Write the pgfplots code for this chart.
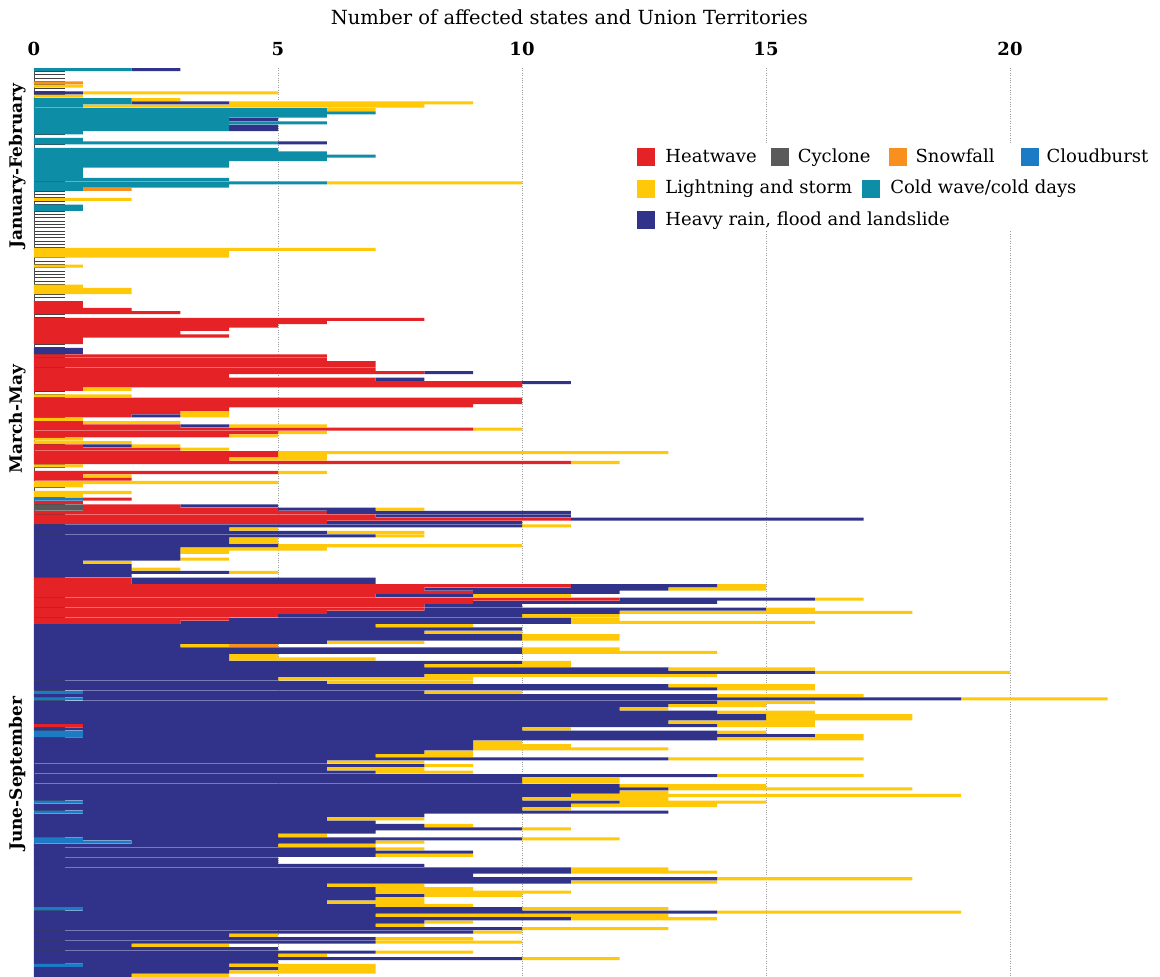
\documentclass[border=0pt]{standalone}
\usepackage{fontspec}
\setmainfont{DejaVu Serif}
\usepackage{pgfplots}
\usepackage{pgfplotstable}
\pgfplotsset{compat=1.18}

\definecolor{hw}{RGB}{229,34,38}
\definecolor{cy}{RGB}{90,90,90}
\definecolor{sn}{RGB}{247,144,30}
\definecolor{cb}{RGB}{27,123,196}
\definecolor{lt}{RGB}{255,201,10}
\definecolor{cw}{RGB}{14,141,166}
\definecolor{hr}{RGB}{49,51,138}

% one row per day, 1 Jan (0) to 30 Sep (272)
% cb cloudburst, cy cyclone, hw heatwave, cw cold wave, hr heavy rain, lt lightning, sn snowfall
\pgfplotstableread{
d cb cy hw cw hr lt sn
0 0 0 0 2 1 0 0
1 0 0 0 0 0 0 0
2 0 0 0 0 0 0 0
3 0 0 0 0 0 0 0
4 0 0 0 0 0 0 1
5 0 0 0 0 0 1 0
6 0 0 0 0 0 0 0
7 0 0 0 0 1 4 0
8 0 0 0 0 0 1 0
9 0 0 0 2 0 1 0
10 0 0 0 2 2 5 0
11 0 0 0 1 0 7 0
12 0 0 0 6 0 1 0
13 0 0 0 7 0 0 0
14 0 0 0 6 0 0 0
15 0 0 0 4 1 0 0
16 0 0 0 6 0 0 0
17 0 0 0 4 1 0 0
18 0 0 0 4 1 0 0
19 0 0 0 1 0 0 0
20 0 0 0 0 0 0 0
21 0 0 0 1 0 0 0
22 0 0 0 5 1 0 0
23 0 0 0 0 0 0 0
24 0 0 0 5 0 0 0
25 0 0 0 6 0 0 0
26 0 0 0 7 0 0 0
27 0 0 0 6 0 0 0
28 0 0 0 4 0 0 0
29 0 0 0 4 0 0 0
30 0 0 0 1 0 0 0
31 0 0 0 1 0 0 0
32 0 0 0 1 0 0 0
33 0 0 0 4 0 0 0
34 0 0 0 6 0 4 0
35 0 0 0 4 0 0 0
36 0 0 0 1 0 0 1
37 0 0 0 0 0 0 0
38 0 0 0 0 0 0 0
39 0 0 0 0 0 2 0
40 0 0 0 0 0 0 0
41 0 0 0 1 0 0 0
42 0 0 0 1 0 0 0
43 0 0 0 0 0 0 0
44 0 0 0 0 0 0 0
45 0 0 0 0 0 0 0
46 0 0 0 0 0 0 0
47 0 0 0 0 0 0 0
48 0 0 0 0 0 0 0
49 0 0 0 0 0 0 0
50 0 0 0 0 0 0 0
51 0 0 0 0 0 0 0
52 0 0 0 0 0 0 0
53 0 0 0 0 0 0 0
54 0 0 0 0 0 7 0
55 0 0 0 0 0 4 0
56 0 0 0 0 0 4 0
57 0 0 0 0 0 0 0
58 0 0 0 0 0 0 0
59 0 0 0 0 0 1 0
60 0 0 0 0 0 0 0
61 0 0 0 0 0 0 0
62 0 0 0 0 0 0 0
63 0 0 0 0 0 0 0
64 0 0 0 0 0 0 0
65 0 0 0 0 0 1 0
66 0 0 0 0 0 2 0
67 0 0 0 0 0 2 0
68 0 0 0 0 0 0 0
69 0 0 0 0 0 0 0
70 0 0 1 0 0 0 0
71 0 0 1 0 0 0 0
72 0 0 2 0 0 0 0
73 0 0 3 0 0 0 0
74 0 0 0 0 0 0 0
75 0 0 8 0 0 0 0
76 0 0 6 0 0 0 0
77 0 0 5 0 0 0 0
78 0 0 4 0 0 0 0
79 0 0 3 0 0 0 0
80 0 0 4 0 0 0 0
81 0 0 1 0 0 0 0
82 0 0 1 0 0 0 0
83 0 0 0 0 0 0 0
84 0 0 0 0 1 0 0
85 0 0 0 0 1 0 0
86 0 0 6 0 0 0 0
87 0 0 6 0 0 0 0
88 0 0 7 0 0 0 0
89 0 0 7 0 0 0 0
90 0 0 7 0 0 0 0
91 0 0 8 0 1 0 0
92 0 0 4 0 0 0 0
93 0 0 7 0 1 0 0
94 0 0 10 0 1 0 0
95 0 0 10 0 0 0 0
96 0 0 1 0 0 1 0
97 0 0 0 0 0 0 0
98 0 0 0 0 0 2 0
99 0 0 10 0 0 0 0
100 0 0 10 0 0 0 0
101 0 0 9 0 0 0 0
102 0 0 4 0 0 0 0
103 0 0 3 0 0 1 0
104 0 0 2 0 1 1 0
105 0 0 0 0 0 1 0
106 0 0 1 0 0 2 0
107 0 0 3 0 1 2 0
108 0 0 9 0 0 1 0
109 0 0 5 0 0 1 0
110 0 0 4 0 0 1 0
111 0 0 0 0 0 1 0
112 0 0 0 0 0 2 0
113 0 0 1 0 1 1 0
114 0 0 3 0 0 1 0
115 0 0 5 0 0 8 0
116 0 0 5 0 0 1 0
117 0 0 4 0 0 2 0
118 0 0 11 0 0 1 0
119 0 0 0 0 0 1 0
120 0 0 0 0 0 0 0
121 0 0 5 0 0 1 0
122 0 0 1 0 0 1 0
123 0 0 2 0 0 0 0
124 0 0 0 0 0 5 0
125 0 0 0 0 0 1 0
126 0 0 0 0 0 0 0
127 0 0 0 0 0 2 0
128 0 0 0 0 0 1 0
129 1 0 1 0 0 0 0
130 0 0 1 0 0 0 0
131 0 1 2 0 2 0 0
132 0 1 4 0 2 1 0
133 0 0 6 0 5 0 0
134 0 0 7 0 4 0 0
135 0 0 11 0 6 0 0
136 0 0 6 0 4 0 0
137 0 0 0 0 10 1 0
138 0 0 0 0 4 1 0
139 0 0 0 0 6 2 0
140 0 0 0 0 7 1 0
141 0 0 0 0 4 1 0
142 0 0 0 0 4 1 0
143 0 0 0 0 5 5 0
144 0 0 0 0 3 3 0
145 0 0 0 0 3 1 0
146 0 0 0 0 3 0 0
147 0 0 0 0 3 1 0
148 0 0 0 0 1 1 0
149 0 0 0 0 2 0 0
150 0 0 0 0 2 1 0
151 0 0 0 0 4 1 0
152 0 0 0 0 2 0 0
153 0 0 2 0 5 0 0
154 0 0 2 0 5 0 0
155 0 0 11 0 3 1 0
156 0 0 8 0 5 2 0
157 0 0 9 0 3 0 0
158 0 0 7 0 2 2 0
159 0 0 12 0 4 1 0
160 0 0 9 0 5 0 0
161 0 0 8 0 2 0 0
162 0 0 8 0 7 1 0
163 0 0 6 0 6 6 0
164 0 0 5 0 5 2 0
165 0 0 4 0 7 1 0
166 0 0 3 0 8 5 0
167 0 0 0 0 7 2 0
168 0 0 0 0 10 0 0
169 0 0 0 0 8 2 0
170 0 0 0 0 10 2 0
171 0 0 0 0 10 2 0
172 0 0 0 0 6 2 0
173 0 0 0 0 3 1 1
174 0 0 0 0 10 2 0
175 0 0 0 0 10 4 0
176 0 0 0 0 4 1 0
177 0 0 0 0 4 3 0
178 0 0 0 0 10 1 0
179 0 0 0 0 8 3 0
180 0 0 0 0 13 3 0
181 0 0 0 0 16 4 0
182 0 0 0 0 8 6 0
183 0 0 0 0 5 4 0
184 0 0 0 0 6 3 0
185 0 0 0 0 13 3 0
186 0 0 0 0 14 2 0
187 1 0 0 0 7 2 0
188 0 0 0 0 14 3 0
189 1 0 0 0 18 3 0
190 0 0 0 0 14 2 0
191 0 0 0 0 13 2 0
192 0 0 0 0 12 1 0
193 0 0 0 0 14 2 0
194 0 0 0 0 15 3 0
195 0 0 0 0 15 3 0
196 0 0 0 0 13 3 0
197 0 0 1 0 13 2 0
198 0 0 0 0 10 1 0
199 1 0 0 0 13 1 0
200 1 0 0 0 15 1 0
201 0 0 0 0 14 3 0
202 0 0 0 0 9 1 0
203 0 0 0 0 9 2 0
204 0 0 0 0 9 4 0
205 0 0 0 0 8 1 0
206 0 0 0 0 7 2 0
207 0 0 0 0 13 4 0
208 0 0 0 0 6 2 0
209 0 0 0 0 8 1 0
210 0 0 0 0 6 2 0
211 0 0 0 0 7 2 0
212 0 0 0 0 14 3 0
213 0 0 0 0 10 2 0
214 0 0 0 0 10 2 0
215 0 0 0 0 12 3 0
216 0 0 0 0 13 5 0
217 0 0 0 0 12 1 0
218 0 0 0 0 11 8 0
219 0 0 0 0 10 3 0
220 1 0 0 0 11 3 0
221 0 0 0 0 11 3 0
222 0 0 0 0 10 1 0
223 1 0 0 0 12 0 0
224 0 0 0 0 8 0 0
225 0 0 0 0 6 2 0
226 0 0 0 0 7 0 0
227 0 0 0 0 8 1 0
228 0 0 0 0 10 1 0
229 0 0 0 0 7 0 0
230 0 0 0 0 5 1 0
231 1 0 0 0 9 2 0
232 2 0 0 0 5 1 0
233 0 0 0 0 5 2 0
234 0 0 0 0 7 1 0
235 0 0 0 0 9 0 0
236 0 0 0 0 7 2 0
237 0 0 0 0 5 0 0
238 0 0 0 0 5 0 0
239 0 0 0 0 8 0 0
240 0 0 0 0 11 2 0
241 0 0 0 0 11 3 0
242 0 0 0 0 9 0 0
243 0 0 0 0 14 4 0
244 0 0 0 0 11 3 0
245 0 0 0 0 6 2 0
246 0 0 0 0 7 2 0
247 0 0 0 0 7 4 0
248 0 0 0 0 8 2 0
249 0 0 0 0 7 1 0
250 0 0 0 0 6 2 0
251 0 0 0 0 7 2 0
252 1 0 0 0 9 3 0
253 0 0 0 0 14 5 0
254 0 0 0 0 7 6 0
255 0 0 0 0 11 3 0
256 0 0 0 0 8 1 0
257 0 0 0 0 7 1 0
258 0 0 0 0 10 3 0
259 0 0 0 0 9 1 0
260 0 0 0 0 4 1 0
261 0 0 0 0 7 2 0
262 0 0 0 0 7 3 0
263 0 0 0 0 2 2 0
264 0 0 0 0 5 0 0
265 0 0 0 0 7 2 0
266 0 0 0 0 5 1 0
267 0 0 0 0 10 2 0
268 0 0 0 0 5 0 0
269 1 0 0 0 3 3 0
270 0 0 0 0 5 2 0
271 0 0 0 0 4 3 0
272 0 0 0 0 2 2 0
}\days

\newcommand{\sq}[1]{{\color{#1}\rule[-4pt]{18pt}{18pt}}}

\begin{document}
\begin{tikzpicture}
\path[use as bounding box] (-34pt,0pt) rectangle (1126pt,977pt);
\begin{axis}[
  at={(0pt,0pt)}, anchor=south west,
  x=48.8pt, y=3.33pt,
  y dir=reverse,
  xmin=0, xmax=22.95,
  ymin=-0.5, ymax=272.5,
  xbar stacked, bar width=3.05pt,
  axis x line*=top, axis y line*=left,
  x axis line style={draw=none},
  y axis line style={draw=black!70, line width=0.8pt},
  xtick={0,5,10,15,20}, xticklabels={0,5,10,15,20},
  xtick style={draw=none},
  xticklabel style={font=\bfseries\fontsize{18}{21}\selectfont, anchor=base, yshift=12pt},
  xmajorgrids, grid style={gray!75, dotted, line width=0.9pt},
  ytick={-0.5,0.5,...,272.5}, yticklabels={},
  ytick align=inside, major tick length=31pt,
  ytick style={black!75, line width=0.6pt},
  extra y ticks={29,105,211.5},
  extra y tick labels={January-February,March-May,June-September},
  extra y tick style={major tick length=0pt,
    yticklabel style={rotate=90, anchor=base, yshift=12pt,
      font=\bfseries\fontsize{17}{20}\selectfont}},
  xlabel={Number of affected states and Union Territories},
  xlabel style={at={(axis description cs:0.478,1)}, anchor=base, yshift=43pt,
    font=\fontsize{19.5}{23}\selectfont},
  legend style={at={(axis cs:12.26,22.4)}, anchor=north west, draw=none, fill=white,
    row sep=12pt, font=\fontsize{18}{21}\selectfont},
  legend cell align=left,
]
\addlegendimage{empty legend}
\addlegendentry{\sq{hw}\hspace{10pt}Heatwave\hspace{14pt}\sq{cy}\hspace{9pt}Cyclone\hspace{18pt}\sq{sn}\hspace{9pt}Snowfall\hspace{26pt}\sq{cb}\hspace{8pt}Cloudburst}
\addlegendimage{empty legend}
\addlegendentry{\sq{lt}\hspace{10pt}Lightning and storm\hspace{10pt}\sq{cw}\hspace{10pt}Cold wave/cold days}
\addlegendimage{empty legend}
\addlegendentry{\sq{hr}\hspace{10pt}Heavy rain, flood and landslide}

\addplot[fill=cb, draw=none] table[x=cb, y=d] {\days};
\addplot[fill=cy, draw=none] table[x=cy, y=d] {\days};
\addplot[fill=hw, draw=none] table[x=hw, y=d] {\days};
\addplot[fill=cw, draw=none] table[x=cw, y=d] {\days};
\addplot[fill=hr, draw=none] table[x=hr, y=d] {\days};
\addplot[fill=lt, draw=none] table[x=lt, y=d] {\days};
\addplot[fill=sn, draw=none] table[x=sn, y=d] {\days};
\end{axis}
\end{tikzpicture}
\end{document}
